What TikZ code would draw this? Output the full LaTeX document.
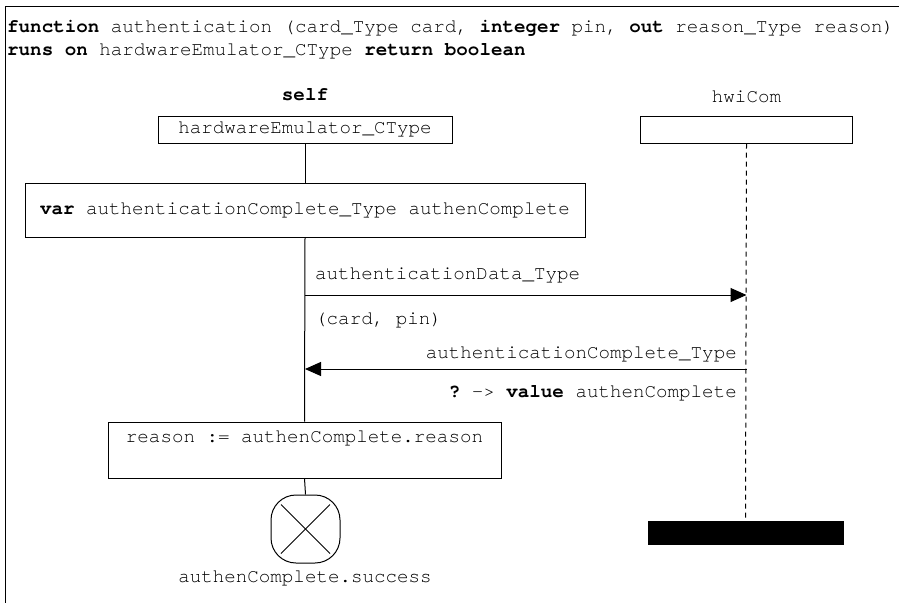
\documentclass[tikz,border=0pt]{standalone}
\usepackage{fontspec}
\setmonofont{TeX Gyre Cursor}
\usetikzlibrary{arrows.meta,calc}
\begin{document}
\begin{tikzpicture}[x=1pt,y=-1pt,
  every node/.style={font=\fontsize{19.2}{22}\selectfont\ttfamily, inner sep=0pt},
  ln/.style={line width=1pt},
  boxn/.style={draw, line width=1pt, rectangle},
  msg/.style={line width=1pt, -{Triangle[length=16pt,width=14pt]}},
  dashln/.style={line width=1pt, dash pattern=on 5pt off 4pt}]
\useasboundingbox (0,0) rectangle (899,603);
\draw[ln] (899,6) -- (5,6) -- (5,603);
% header
\node[anchor=west] (h1) at (7,28) {\textbf{function} authentication (card\_Type card, \textbf{integer} pin, \textbf{out} reason\_Type reason)};
\node[anchor=west] (h2) at (7,51) {\textbf{runs on} hardwareEmulator\_CType \textbf{return boolean}};
% instances
\node (selflbl) at (305,95) {\textbf{self}};
\node[boxn, minimum width=294pt, minimum height=27pt] (self) at (305,129.5) {hardwareEmulator\_CType};
\node (hwilbl) at (746.5,97) {hwiCom};
\node[boxn, minimum width=212pt, minimum height=27pt] (hwi) at (746.5,129.5) {};
% var box
\node[boxn, minimum width=560pt, minimum height=54pt] (var) at (305,210) {\textbf{var} authenticationComplete\_Type authenComplete};
\draw[ln] (self.south) -- (var.north);
% messages
\coordinate (s1) at (305,295);
\coordinate (e1) at (746.5,295);
\coordinate (s2) at (746.5,369);
\coordinate (e2) at (305,369);
\draw[msg] (s1) -- (e1);
\draw[msg] (s2) -- (e2);
\node[anchor=west] (m1) at (315,275) {authenticationData\_Type};
\node[anchor=west] (m1b) at (315,320) {(card, pin)};
\node[anchor=east] (m2) at (737,354) {authenticationComplete\_Type};
\node[anchor=east] (m2b) at (737,393) {\textbf{?} -> \textbf{value} authenComplete};
% reason box
\node[boxn, minimum width=393pt, text height=14pt, text depth=30pt, inner ysep=6pt, inner xsep=0pt] (reason) at (304.5,450) {reason := authenComplete.reason};
\draw[ln] (var.south) -- (reason.north);
% stop
\node[draw, line width=1pt, rounded corners=25pt, minimum width=69pt, minimum height=68pt] (stop) at (305.5,529) {};
\draw[ln] (reason.south) -- (stop.north);
\draw[ln] ($(stop.center)+(-24.5,-24.5)$) -- ($(stop.center)+(24.5,24.5)$);
\draw[ln] ($(stop.center)+(24.5,-24.5)$) -- ($(stop.center)+(-24.5,24.5)$);
\node (succ) at (305,578) {authenComplete.success};
% hwi end
\node[draw, fill=black, minimum width=195pt, minimum height=23pt] (bar) at (745.5,532.5) {};
\draw[dashln] (hwi.south) -- (bar.north);
\end{tikzpicture}
\end{document}
